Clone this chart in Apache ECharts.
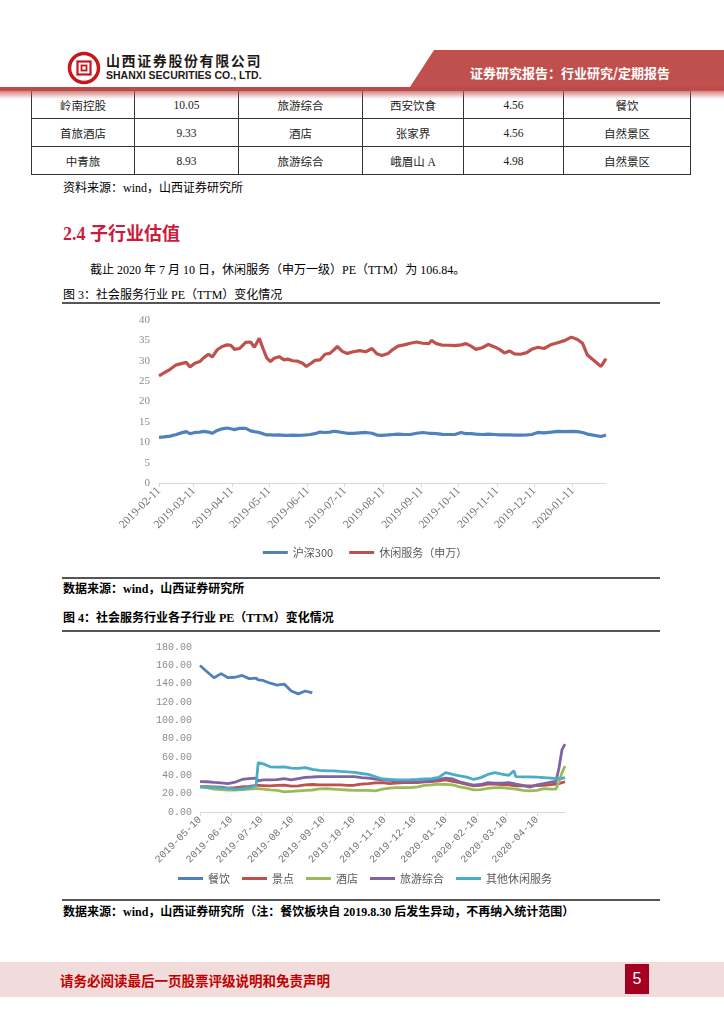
<!DOCTYPE html>
<html><head><meta charset="utf-8">
<script src="https://cdn.jsdelivr.net/npm/echarts@6/dist/echarts.min.js"></script>
<style>
body{margin:0;width:724px;height:1024px;position:relative;background:#fff;font-family:"Liberation Serif","Noto Sans CJK SC",serif;color:#000;overflow:hidden}
.a{position:absolute;white-space:nowrap}
table{border-collapse:collapse;font-size:11.5px;color:#222}
td{border:1px solid #333;height:27px;padding:0;text-align:center}
.hr{position:absolute;left:62px;width:598px;height:2px;background:#555}
</style></head><body>
<!-- header -->
<svg class="a" style="left:66px;top:50px" width="36" height="36" viewBox="0 0 36 36">
<circle cx="18" cy="18" r="14.5" fill="none" stroke="#C8161D" stroke-width="3.5"/>
<rect x="10" y="10" width="16" height="16" fill="#fff"/>
<rect x="11.5" y="11.5" width="13" height="13" fill="none" stroke="#C8161D" stroke-width="2.2"/>
<rect x="15.5" y="15.5" width="5" height="5" fill="none" stroke="#C8161D" stroke-width="1.8"/>
</svg>
<div class="a" style="left:106px;top:53px;font-size:14px;line-height:15px;font-weight:bold;font-family:'Noto Sans CJK SC';color:#231815;letter-spacing:1.6px">山西证券股份有限公司</div>
<div class="a" style="left:106px;top:70px;font-size:10.5px;line-height:11px;font-weight:bold;font-family:'Liberation Sans';color:#231815">SHANXI SECURITIES CO., LTD.</div>
<div class="a" style="left:408px;top:50px;width:316px;height:40px;background:#C0504D;clip-path:polygon(26px 0,100% 0,100% 100%,0 100%)"></div>
<div class="a" style="left:470px;top:63px;font-size:13px;font-weight:bold;font-family:'Noto Sans CJK SC';color:#fff">证券研究报告：行业研究/定期报告</div>
<div class="a" style="left:0;top:87px;width:724px;height:4px;background:#BF4A47"></div>
<!-- table -->
<table class="a" style="left:31px;top:90px">
<colgroup><col style="width:103px"><col style="width:104px"><col style="width:124px"><col style="width:101px"><col style="width:100px"><col style="width:127px"></colgroup>
<tr><td>岭南控股</td><td>10.05</td><td>旅游综合</td><td>西安饮食</td><td>4.56</td><td>餐饮</td></tr>
<tr><td>首旅酒店</td><td>9.33</td><td>酒店</td><td>张家界</td><td>4.56</td><td>自然景区</td></tr>
<tr><td>中青旅</td><td>8.93</td><td>旅游综合</td><td>峨眉山 A</td><td>4.98</td><td>自然景区</td></tr>
</table>
<div class="a" style="left:0;top:90px;width:724px;height:9px;background:linear-gradient(rgba(200,90,88,0.85),rgba(255,255,255,0))"></div>
<div class="a" style="left:63px;top:178px;font-size:12px">资料来源：wind，山西证券研究所</div>
<div class="a" style="left:63px;top:219px;font-size:18px;font-weight:bold;color:#CC1B3B">2.4 子行业估值</div>
<div class="a" style="left:90px;top:260px;font-size:12px">截止 2020 年 7 月 10 日，休闲服务（申万一级）PE（TTM）为 106.84。</div>
<div class="a" style="left:63px;top:285px;font-size:12px">图 3：社会服务行业 PE（TTM）变化情况</div>
<div class="hr" style="top:302px"></div>
<div id="c1" class="a" style="left:60px;top:305px;width:610px;height:270px"></div>
<div class="hr" style="top:577px"></div>
<div class="a" style="left:63px;top:579px;font-size:12px;font-weight:bold">数据来源：wind，山西证券研究所</div>
<div class="a" style="left:63px;top:608px;font-size:12px;font-weight:bold">图 4：社会服务行业各子行业 PE（TTM）变化情况</div>
<div class="hr" style="top:630px"></div>
<div id="c2" class="a" style="left:60px;top:633px;width:610px;height:265px"></div>
<div class="hr" style="top:899px"></div>
<div class="a" style="left:63px;top:902px;font-size:12px;font-weight:bold">数据来源：wind，山西证券研究所（注：餐饮板块自 2019.8.30 后发生异动，不再纳入统计范围）</div>
<!-- footer -->
<div class="a" style="left:0;top:962px;width:724px;height:35px;background:#F2DCDB"></div>
<div class="a" style="left:60px;top:970px;font-size:13.5px;font-weight:bold;color:#C00000;font-family:'Noto Sans CJK SC'">请务必阅读最后一页股票评级说明和免责声明</div>
<div class="a" style="left:625px;top:964px;width:24px;height:30px;background:#A50021;color:#fff;font-size:16px;font-family:'Liberation Sans';text-align:center;line-height:30px">5</div>
<script>
// ---------- Figure 3 data ----------
const dates1 = ['2019-02-11','2019-02-15','2019-02-20','2019-02-25',
'2019-03-01','2019-03-05','2019-03-08','2019-03-12','2019-03-16','2019-03-19','2019-03-23','2019-03-26','2019-03-30',
'2019-04-03','2019-04-07','2019-04-10','2019-04-13','2019-04-17','2019-04-22','2019-04-26','2019-04-29',
'2019-05-03','2019-05-06','2019-05-09','2019-05-12','2019-05-15','2019-05-19','2019-05-23','2019-05-26','2019-05-30',
'2019-06-03','2019-06-07','2019-06-10','2019-06-13','2019-06-17','2019-06-21','2019-06-25','2019-06-29',
'2019-07-02','2019-07-05','2019-07-09','2019-07-13','2019-07-18','2019-07-23','2019-07-28',
'2019-08-02','2019-08-06','2019-08-10','2019-08-15','2019-08-19','2019-08-23','2019-08-28',
'2019-09-02','2019-09-07','2019-09-12','2019-09-17','2019-09-19','2019-09-23','2019-09-28',
'2019-10-03','2019-10-08','2019-10-13','2019-10-17','2019-10-21','2019-10-25','2019-10-30',
'2019-11-04','2019-11-09','2019-11-13','2019-11-17','2019-11-21','2019-11-25','2019-11-30',
'2019-12-05','2019-12-09','2019-12-14','2019-12-19','2019-12-25','2019-12-30',
'2020-01-05','2020-01-10','2020-01-15','2020-01-19','2020-01-23',
'2020-02-03','2020-02-07'];
const hs300 = [11.2,11.3,11.5,11.9,
12.3,12.6,12.1,12.4,12.5,12.65,12.5,12.2,12.9,
13.3,13.5,13.3,13.1,13.4,13.4,12.8,12.6,
12.4,12.1,11.8,11.8,11.75,11.8,11.7,11.7,11.75,
11.7,11.75,11.8,11.9,12.1,12.5,12.4,12.5,
12.7,12.6,12.4,12.2,12.2,12.3,12.4,
12.2,11.75,11.7,11.8,11.9,12.0,11.9,
11.9,12.2,12.4,12.2,12.2,12.1,11.95,
11.9,11.9,12.4,12.1,12.1,12.0,11.9,
12.0,11.9,11.8,11.8,11.8,11.75,11.75,
11.8,11.9,12.4,12.3,12.5,12.65,
12.6,12.65,12.6,12.4,12.0,
11.4,11.8];
const leisure = [26.3,27.0,27.9,29.0,
29.3,29.6,28.5,29.4,29.8,30.7,31.6,30.9,32.7,
33.5,33.9,33.8,32.8,33.0,34.5,34.6,33.3,
35.5,33.0,30.7,29.8,30.6,31.0,30.2,30.4,30.0,
29.9,29.4,28.6,29.2,30.1,30.2,31.6,31.8,
32.6,33.5,32.3,31.8,32.2,32.5,32.2,
33.0,31.7,31.3,31.8,32.8,33.6,33.9,
34.3,34.6,34.3,34.2,35.0,34.2,33.8,
33.8,33.7,33.9,34.2,33.6,32.8,33.2,
34.0,33.4,32.8,31.9,32.4,31.7,31.6,
32.0,32.8,33.3,33.0,34.0,34.4,
35.0,35.8,35.2,34.3,31.4,
28.6,30.5];
const ticks1 = ['2019-02-11','2019-03-11','2019-04-11','2019-05-11','2019-06-11','2019-07-11',
'2019-08-11','2019-09-11','2019-10-11','2019-11-11','2019-12-11','2020-01-11'];
const axisEnd1 = '2020-02-07';
const names1 = ['沪深300','休闲服务（申万）'];

// ---------- Figure 4 data ----------
const dates2 = ['2019-05-10','2019-05-17','2019-05-24','2019-05-31','2019-06-07','2019-06-14','2019-06-21','2019-06-28',
'2019-07-05','2019-07-07','2019-07-12','2019-07-19','2019-07-26','2019-08-02','2019-08-09','2019-08-16','2019-08-23','2019-08-30',
'2019-09-06','2019-09-13','2019-09-20','2019-09-27','2019-10-04','2019-10-11','2019-10-18','2019-10-25',
'2019-11-01','2019-11-08','2019-11-15','2019-11-22','2019-11-29','2019-12-06','2019-12-13','2019-12-20','2019-12-27',
'2020-01-03','2020-01-10','2020-01-17','2020-01-24','2020-01-31','2020-02-07','2020-02-14','2020-02-21','2020-02-28',
'2020-03-06','2020-03-13','2020-03-18','2020-03-20','2020-03-27','2020-04-03','2020-04-10','2020-04-17','2020-04-24','2020-04-29',
'2020-05-02','2020-05-05','2020-05-08'];
const catering = [159.9,153,146.5,151,146.5,147,149,145.5,146,144.2,143.5,140.5,138.5,139.5,132,128.9,132,130];
const scenic = [27.7,27.6,27.4,27.0,26.0,26.5,27.4,28.0,29.0,29.0,
28.8,28.5,29.0,29.2,28.3,28.5,29.5,30.0,29.7,29.6,
29.6,29.5,29.0,29.2,30.5,31.0,31.8,32.0,31.0,31.5,
32.1,32.1,32.1,32.8,33.2,34.0,35.0,33.5,32.0,30.0,
28.5,29.0,30.5,30.5,30.0,29.5,28.8,28.5,28.5,28.5,
28.8,29.2,29.8,30.5,31.0,32.0,33.0];
const hotel = [27.4,26.5,25.0,24.5,23.8,24.0,24.5,25.0,25.6,25.5,
25.0,24.1,23.5,22.0,22.5,23.0,23.5,24.0,25.2,25.5,
25.0,24.5,24.0,23.7,23.7,23.5,23.0,25.0,26.0,26.7,
26.7,26.7,27.5,29.0,29.5,30.3,30.0,29.5,27.5,26.0,
24.1,24.5,25.8,26.5,26.7,25.8,25.2,25.0,23.7,23.0,
23.5,25.5,25.0,25.0,33.0,43.0,50.0];
const tourism = [33.2,33.0,32.3,31.8,31.0,32.5,35.5,36.5,37.0,34.0,
35.0,35.0,35.3,36.5,35.0,36.5,37.8,38.2,38.7,38.5,
38.7,38.5,38.7,38.7,37.5,37.0,35.8,35.0,34.5,34.0,
33.5,33.3,33.2,33.5,34.0,35.5,37.0,36.0,33.0,31.0,
29.2,30.0,32.0,31.5,31.5,32.0,31.0,30.5,29.0,27.2,
29.5,31.0,32.5,33.5,48.0,68.0,74.0];
const otherLeisure = [27.4,27.0,26.8,26.3,26.0,24.8,25.5,26.5,29.0,54.0,
52.5,49.3,49.0,49.3,47.8,47.5,48.5,46.5,45.5,45.0,
44.9,44.3,43.8,43.2,42.0,41.0,38.5,36.0,35.5,35.0,
35.0,35.2,35.5,36.0,36.5,37.8,43.0,41.0,39.5,38.0,
35.5,37.5,41.0,43.0,41.3,40.0,45.0,38.5,38.3,38.3,
38.0,37.6,37.0,36.5,36.3,36.8,37.6];
const ticks2 = ['2019-05-10','2019-06-10','2019-07-10','2019-08-10','2019-09-10','2019-10-10',
'2019-11-10','2019-12-10','2020-01-10','2020-02-10','2020-03-10','2020-04-10'];
const axisEnd2 = '2020-05-08';
const names2 = ['餐饮','景点','酒店','旅游综合','其他休闲服务'];

// ---------- helpers (date -> day offset on a linear date scale) ----------
function ts(s){const p=s.split('-').map(Number);return Date.UTC(p[0],p[1]-1,p[2]);}
function dayOf(s,start){return Math.round((ts(s)-ts(start))/86400000);}
function pairs(dates,vals){return vals.map((v,i)=>[dayOf(dates[i],dates[0]),v]);}
const grey='#D9D9D9';

function dateAxis(ticks,start,end,font,size){
  const tv=ticks.map(s=>dayOf(s,start)); const lm={};
  ticks.forEach((s,i)=>{lm[tv[i]]=s;});
  return {type:'value',min:0,max:dayOf(end,start),
    axisLine:{show:true,onZero:false,lineStyle:{color:grey,width:1}},
    axisTick:{show:true,customValues:tv,length:4,lineStyle:{color:grey}},
    axisLabel:{customValues:tv,rotate:45,margin:6,hideOverlap:false,showMinLabel:true,showMaxLabel:true,
      color:'#737373',fontSize:size,fontFamily:font,formatter:v=>lm[v]||''},
    splitLine:{show:false}};
}
function lineSeries(name,data,color,w){
  return {name,type:'line',data,showSymbol:false,symbol:'none',lineStyle:{color,width:w},itemStyle:{color},
    connectNulls:false,animation:false};
}

const c1=echarts.init(document.getElementById('c1'),null,{renderer:'canvas'});
c1.setOption({
  animation:false,
  grid:{left:99,right:64,top:15,bottom:92},
  legend:{bottom:12,left:'center',icon:'rect',itemWidth:25,itemHeight:3,itemGap:16,
    textStyle:{color:'#595959',fontSize:11,fontFamily:'Noto Sans CJK SC'},data:names1},
  xAxis:dateAxis(ticks1,dates1[0],axisEnd1,'Liberation Serif',11.5),
  yAxis:{type:'value',min:0,max:40,interval:5,axisLine:{show:false},axisTick:{show:false},splitLine:{show:false},
    axisLabel:{color:'#8c8c8c',fontSize:11,fontFamily:'Liberation Serif',margin:9}},
  series:[lineSeries(names1[0],pairs(dates1,hs300),'#4F81BD',3.2),
          lineSeries(names1[1],pairs(dates1,leisure),'#C0504D',3.2)]
});

const c2=echarts.init(document.getElementById('c2'),null,{renderer:'canvas'});
c2.setOption({
  animation:false,
  grid:{left:140,right:105,top:14,bottom:86},
  legend:{bottom:9,left:'center',icon:'rect',itemWidth:25,itemHeight:3,itemGap:12,
    textStyle:{color:'#595959',fontSize:11,fontFamily:'Noto Sans CJK SC'},data:names2},
  xAxis:dateAxis(ticks2,dates2[0],axisEnd2,'Liberation Mono',10.2),
  yAxis:{type:'value',min:0,max:180,interval:20,axisLine:{show:false},axisTick:{show:false},splitLine:{show:false},
    axisLabel:{color:'#8c8c8c',fontSize:10,fontFamily:'Liberation Mono',margin:8,formatter:v=>v.toFixed(2)}},
  series:[lineSeries(names2[0],pairs(dates2,catering),'#4F81BD',2.8),
          lineSeries(names2[1],pairs(dates2,scenic),'#C0504D',2.8),
          lineSeries(names2[2],pairs(dates2,hotel),'#9BBB59',2.8),
          lineSeries(names2[3],pairs(dates2,tourism),'#8064A2',2.8),
          lineSeries(names2[4],pairs(dates2,otherLeisure),'#4BACC6',2.8)]
});
</script>
</body></html>
